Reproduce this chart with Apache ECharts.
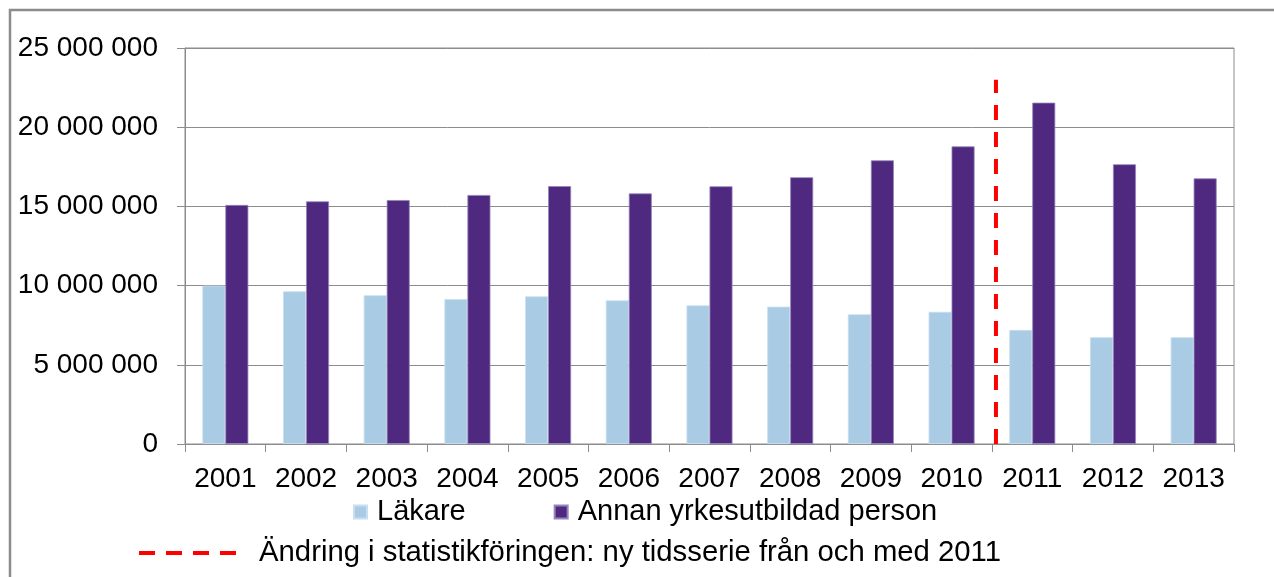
<!DOCTYPE html>
<html>
<head>
<meta charset="utf-8">
<script src="https://cdn.jsdelivr.net/npm/echarts@6/dist/echarts.min.js"></script>
<style>
html,body{margin:0;padding:0;background:#fff;}
#chart{width:1274px;height:577px;}
</style>
</head>
<body>
<div id="chart"></div>
<script>
var years = ['2001','2002','2003','2004','2005','2006','2007','2008','2009','2010','2011','2012','2013'];
var lakare = [10000000, 9640000, 9390000, 9150000, 9320000, 9070000, 8750000, 8670000, 8190000, 8340000, 7200000, 6740000, 6740000];
var annan = [15090000, 15320000, 15400000, 15720000, 16280000, 15820000, 16270000, 16840000, 17910000, 18790000, 21550000, 17660000, 16770000];
var yTicks = [0, 5000000, 10000000, 15000000, 20000000, 25000000];
var breakPos = 10.05;           // position of the series break, in category units from the left edge
var breakLine = [0, 23000000];  // bottom and top value of the dashed line

var seriesNames = ['Läkare', 'Annan yrkesutbildad person'];
var breakName = 'Ändring i statistikföringen: ny tidsserie från och med 2011';

var FONT = "'Liberation Sans', Arial, sans-serif";
var chart = echarts.init(document.getElementById('chart'), null, {renderer: 'canvas'});

function fmt(v) {
  return String(v).replace(/\B(?=(\d{3})+(?!\d))/g, ' ');
}

var option = {
  animation: false,
  backgroundColor: '#fff',
  textStyle: {fontFamily: FONT, color: '#000'},
  graphic: [{
    type: 'rect',
    shape: {x: 10, y: 10, width: 1300, height: 620},
    style: {fill: 'none', stroke: '#8c8c8c', lineWidth: 2.5},
    silent: true, z: -10
  }],
  grid: {
    left: 185, right: 40, top: 48, bottom: 133,
    show: true, borderColor: '#8c8c8c', borderWidth: 1
  },
  legend: [{
    data: seriesNames,
    left: 353, top: 497,
    orient: 'horizontal',
    itemWidth: 13, itemHeight: 13,
    itemGap: 88,
    padding: 0,
    icon: 'rect',
    textStyle: {fontFamily: FONT, fontSize: 29, color: '#000', lineHeight: 30, padding: [0, 0, 0, 5]}
  }, {
    data: [breakName],
    left: 139, top: 538,
    itemWidth: 97, itemHeight: 4,
    padding: 0,
    icon: 'path://M0,0h16v4h-16z M27,0h16v4h-16z M54,0h16v4h-16z M81,0h16v4h-16z',
    textStyle: {fontFamily: FONT, fontSize: 29.3, color: '#000', lineHeight: 30, padding: [0, 0, 0, 18]}
  }],
  xAxis: [{
    type: 'category',
    data: years,
    axisLine: {show: true, lineStyle: {color: '#8c8c8c', width: 1}},
    axisTick: {show: true, length: 8, lineStyle: {color: '#8c8c8c'}},
    axisLabel: {fontFamily: FONT, fontSize: 28, color: '#000', margin: 21, interval: 0, hideOverlap: false},
    splitLine: {show: false}
  }, {
    type: 'value',
    min: 0, max: years.length,
    show: false
  }],
  yAxis: {
    type: 'value',
    min: yTicks[0], max: yTicks[yTicks.length - 1], interval: yTicks[1] - yTicks[0],
    axisLine: {show: true, lineStyle: {color: '#8c8c8c', width: 1}},
    axisTick: {show: true, length: 8, lineStyle: {color: '#8c8c8c'}},
    axisLabel: {fontFamily: FONT, fontSize: 28, color: '#000', margin: 27, formatter: fmt},
    splitLine: {show: true, lineStyle: {color: '#8c8c8c', width: 1}}
  },
  series: [{
    name: seriesNames[0],
    type: 'bar',
    data: lakare,
    barGap: '0%',
    barCategoryGap: '43%',
    itemStyle: {color: '#A9CCE4', borderColor: '#c9def0', borderWidth: 0.8}
  }, {
    name: seriesNames[1],
    type: 'bar',
    data: annan,
    itemStyle: {color: '#4F2980', borderColor: '#9486bb', borderWidth: 0.8}
  }, {
    name: breakName,
    type: 'line',
    xAxisIndex: 1,
    data: [[breakPos, breakLine[0]], [breakPos, breakLine[1]]],
    symbol: 'none',
    itemStyle: {color: '#FF0000'},
    lineStyle: {color: '#FF0000', width: 4, type: [15, 12]},
    z: 5
  }]
};
chart.setOption(option);
</script>
</body>
</html>
